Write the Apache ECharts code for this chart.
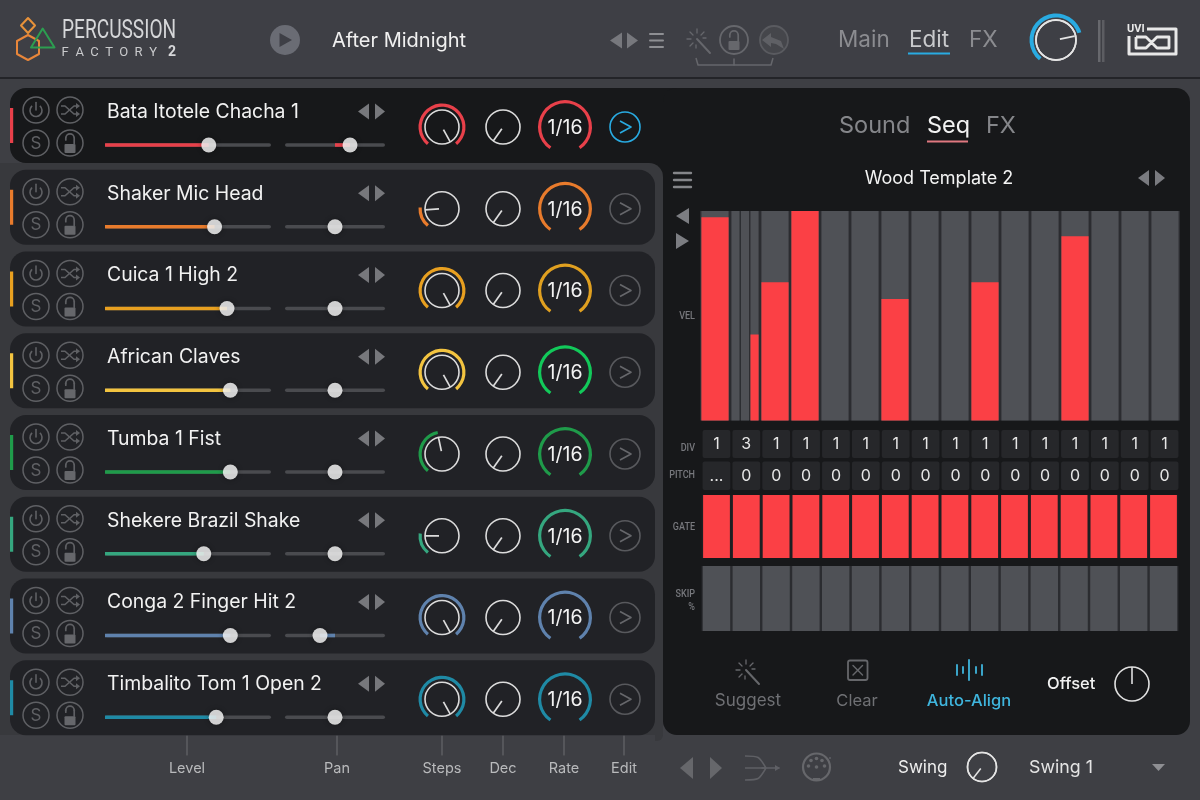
<!DOCTYPE html>
<html><head><meta charset="utf-8">
<style>html,body{margin:0;padding:0;background:#3e3f44}#c{width:1200px;height:800px}</style>
<script src="https://cdn.jsdelivr.net/npm/echarts@6/dist/echarts.min.js"></script>
</head><body><div id="c"></div>
<script>
// ---- data ----
const trackNames = ['Bata Itotele Chacha 1','Shaker Mic Head','Cuica 1 High 2','African Claves','Tumba 1 Fist','Shekere Brazil Shake','Conga 2 Finger Hit 2','Timbalito Tom 1 Open 2'];
const trackColors = ['#e8404a','#e87b2c','#e8a020','#f3c440','#1f9b4a','#35a77f','#5f82ad','#1f8aa5'];
const rateColors  = ['#e8404a','#e87b2c','#e0a020','#12c95a','#1f9b4a','#35a77f','#5f82ad','#1f8aa5'];
const levelValues = [62.5,66,73.5,75.5,75.5,59.5,75.5,67];
const panValues   = [30,0,0,0,0,0,-30,0];
const stepValues  = [100,19,100,100,46,20,100,100];
const decValues   = [2,2,2,2,2,2,2,2];
const rateLabels  = ['1/16','1/16','1/16','1/16','1/16','1/16','1/16','1/16'];
const stepNames   = ['1','2','3','4','5','6','7','8','9','10','11','12','13','14','15','16'];
const velocity    = [[97],[0,0,41],[66],[100],[0],[0],[58],[0],[0],[66],[0],[0],[88],[0],[0],[0]];
const divLabels   = ['1','3','1','1','1','1','1','1','1','1','1','1','1','1','1','1'];
const pitchLabels = ['...','0','0','0','0','0','0','0','0','0','0','0','0','0','0','0'];
const gateValues  = [100,100,100,100,100,100,100,100,100,100,100,100,100,100,100,100];
const skipValues  = [0,0,0,0,0,0,0,0,0,0,0,0,0,0,0,0];
const masterValue = 76, offsetValue = 50, swingValue = 3;
const columnLabels = [['Level',187],['Pan',337],['Steps',442],['Dec',503],['Rate',564],['Edit',624]];
const headerTabs = [['Main',838,'#8b8c90'],['Edit',909,'#c9cacc'],['FX',969,'#8b8c90']];
const panelTabs  = [['Sound',839,'#85868a'],['Seq',927,'#f2f2f2'],['FX',986,'#85868a']];
const sideLabels = [['VEL',315],['DIV',447],['PITCH',474],['GATE',526],['SKIP',593],['%',606]];

// ---- layout helpers ----
const FONT = 'Inter, Roboto, sans-serif';
const BLUE = '#29abe2', ICON = '#5f6064', RED = '#fb4045', DARK = '#17181a';
const deco = [];
const add = (o, z) => { o.silent = true; o.z = z === undefined ? 5 : z; deco.push(o); return o; };
const rect = (x,y,w,h,r,fill,z,stroke,lw) => add({type:'rect',shape:{x,y,width:w,height:h,r},style:{fill:fill||'none',stroke:stroke||'none',lineWidth:lw||1}},z);
const circle = (cx,cy,r,stroke,lw,fill) => add({type:'circle',shape:{cx,cy,r},style:{fill:fill||'none',stroke:stroke||'none',lineWidth:lw||1}});
const line = (x1,y1,x2,y2,stroke,lw) => add({type:'line',shape:{x1,y1,x2,y2},style:{stroke,lineWidth:lw||1,lineCap:'round'}});
const poly = (points,fill) => add({type:'polygon',shape:{points},style:{fill}});
const outline = (points,stroke,lw) => add({type:'polyline',shape:{points},style:{stroke,lineWidth:lw||1,fill:'none',lineJoin:'round'}});
const loop = (points,stroke,lw) => add({type:'polygon',shape:{points},style:{stroke,lineWidth:lw||1,fill:'none',lineJoin:'round'}});
const arc = (cx,cy,r,a0,a1,stroke,lw) => add({type:'arc',shape:{cx,cy,r,startAngle:a0,endAngle:a1,clockwise:true},style:{stroke,lineWidth:lw||1,fill:'none'}});
const text = (s,x,y,size,fill,align,weight,family,scaleX) => add({type:'text',x,y:y+1,scaleX:scaleX||1,originX:0,originY:0,style:{text:s,x:0,y:0,fill,fontSize:size,fontFamily:family||FONT,fontWeight:weight||400,align:align||'left',verticalAlign:'middle'}});
const arrows = (xl,xm1,xm2,xr,y,h,fill) => { poly([[xl,y],[xm1,y-h],[xm1,y+h]],fill); poly([[xr,y],[xm2,y-h],[xm2,y+h]],fill); };
const burger = (x0,x1,ys,c,lw) => ys.forEach(y => line(x0,y,x1,y,c,lw));
const wand = (cx,cy,c,lw) => {
  line(cx,cy,cx+13,cy+14,c,lw+0.6);
  [[-10,0,-6,0],[0,-10,0,-6],[-7,-7,-4,-4],[7,-7,4,-4],[-7,7,-4,4],[9,-1,6,-1],[-1,9,-1,6]].forEach(d => line(cx+d[0],cy+d[1],cx+d[2],cy+d[3],c,1.3));
};
const lock = (cx,cy,c,bodyColor) => {
  rect(cx-5.5,cy,11,9,1,bodyColor||c);
  arc(cx,cy-6,4.2,Math.PI,2*Math.PI,c,1.7);
  line(cx+4.2,cy-6,cx+4.2,cy,c,1.7);
  line(cx-4.2,cy-6,cx-4.2,cy-4,c,1.7);
};

// page + panels
rect(0,0,1200,77,0,'#3e3f45',-5);
rect(0,77,1200,2,0,'#232428',-5);
rect(0,79,1200,721,0,'#3e3f44',-5);
rect(10,88,670,75,[16,0,0,16],DARK,-4);
rect(663,88,527,647,14,DARK,-4);
rect(645,163,22,22,0,DARK,-4);
rect(0,163,663,577,[0,14,0,0],'#38393d',-3);
rect(0,735,670,65,0,'#3e3f44',-3);
rect(655,735,8,6,[0,0,8,0],'#38393d',-3);

// header
loop([[28,18],[35,25.5],[28,33],[21,25.5]],'#e8923a',2);
loop([[28,35],[39,41],[39,54],[28,60],[17,54],[17,41]],'#e8863a',2);
loop([[42.7,28.5],[54.5,47.5],[31,47.5]],'#2c9e50',2);
text('PERCUSSION',62,30.5,26,'#d6d7d9','left',400,'Roboto',0.735);
'FACTORY'.split('').forEach((ch,i) => text(ch,65+14.7*i,51.5,13,'#c9cacc','center',400,'Roboto'));
text('2',172,51.5,14,'#d6d7d9','center',700,'Roboto');
circle(285,40,15,null,1,'#6a6c74');
poly([[279.5,33],[279.5,47],[292,40]],'#3e3f46');
text('After Midnight',332,40,20,'#f0f0f0');
arrows(610,622,627,638,40.5,8,'#77787d');
burger(650,663,[34,40.5,47],'#8e8f93',2);
wand(697,39,'#66676c',1.3);
circle(734,40,14,'#66676c',1.8); lock(734,41,'#66676c');
circle(774,40,14,'#5a5b60',1.8,'#45464b');
poly([[762,40],[771,33],[771,37],[781,41],[784,49],[776,44],[771,43],[771,47]],'#5f6065');
outline([[696,58],[698,65],[771,65],[773,58]],'#66676c',1.5);
line(734,59,734,65,'#66676c',1.5);
headerTabs.forEach(t => text(t[0],t[1],39.5,22.5,t[2]));
rect(908,52.5,42,2,0,BLUE);
circle(1056,40,20,'#e4e4e4',1.8);
rect(1098,20,2.5,42,0,'#67686d'); rect(1102,20,2.5,42,0,'#5c5d62');
// UVI logo
text('UVI',1127,28,11,'#e8e8e8','left',700,'Roboto');
outline([[1147,29],[1176,29],[1176,54],[1129,54],[1129,36]],'#e8e8e8',3);
outline([[1136,37],[1136,48],[1146,48],[1157,37],[1169,37],[1169,48],[1157,48],[1146,37],[1136,37]],'#e8e8e8',2.8);

// sequencer panel furniture
panelTabs.forEach(t => text(t[0],t[1],125,23.5,t[2]));
rect(927,140.5,41,2,0,'#e07880');
burger(674,691,[173,180,187],'#85868a',2.4);
text('Wood Template 2',939,177.5,18,'#f4f4f4','center');
arrows(1138,1149,1155,1165,178,8,'#7a7b80');
poly([[676,216],[689,208],[689,224]],'#7c7d82');
poly([[689,241],[676,233],[676,249]],'#7c7d82');
sideLabels.forEach(l => text(l[0],695,l[1],10.5,'#77787d','right',500,'Roboto',0.86));
wand(746,670,'#66676b',1.4);
text('Suggest',748,700,17,'#6f7074','center');
rect(848,660.5,19.5,19.5,2,null,5,'#66676b',1.8);
line(853,665.5,862.5,675,'#66676b',1.4); line(862.5,665.5,853,675,'#66676b',1.4);
text('Clear',857,700,16.5,'#6f7074','center');
[[957,5],[963,3],[969,10],[976,3],[982,5]].forEach(b => line(b[0],670-b[1],b[0],670+b[1],'#3fb5dd',1.8));
text('Auto-Align',969,700,16.5,'#3fb5dd','center',500);
text('Offset',1047,683,16.5,'#f2f2f2','left',500);

// bottom strip
columnLabels.forEach(c => { line(c[1],736,c[1],755,'#66676b',1.2); text(c[0],c[1],768,14.5,'#b9babc','center'); });
arrows(680,693,710,722,768,11,'#66676b');
[[745,756],[745,768],[745,780]].forEach(p => add({type:'bezierCurve',shape:{x1:p[0],y1:p[1],x2:766,y2:768,cpx1:759,cpy1:p[1],cpx2:759,cpy2:p[1]},style:{stroke:'#5f6065',lineWidth:1.5,fill:'none'}}));
line(762,768,779,768,'#5f6065',1.5);
poly([[780,768],[775,765],[775,771]],'#5f6065');
circle(816.5,767,13.5,'#66676b',2.2);
[[-8,-1],[-5.5,-6.5],[0,-8.5],[5.5,-6.5],[8,-1]].forEach(d => circle(816.5+d[0],767+d[1],1.8,null,1,'#66676b'));
circle(816.5,767,1.8,null,1,'#66676b');
rect(813,778,7,2,0,'#66676b');
circle(830,758,0.8,null,1,'#77787d');
text('Swing',898,767,17,'#eeeeee');
circle(982,767,14.5,'#e4e4e4',1.5);
text('Swing 1',1029,767,17.8,'#e4e4e4');
poly([[1152,764],[1165,764],[1158.5,771]],'#8e8f93');

// ---- chart option pieces ----
const grids=[], xAxes=[], yAxes=[], series=[];
function addGrid(left,top,width,height,x,y,bg){
  const i = grids.length;
  grids.push({left,top,width,height,containLabel:false,show:!!bg,backgroundColor:bg||'transparent',borderWidth:0});
  xAxes.push(Object.assign({gridIndex:i,show:false},x));
  yAxes.push(Object.assign({gridIndex:i,show:false},y));
  return i;
}
const catX = {type:'category',data:stepNames,boundaryGap:true};
const valY = {type:'value',min:0,max:100};

function slider(left,cy,width,min,max,value,color){
  const g = addGrid(left,cy-7,width,14,{type:'value',min,max},{type:'category',data:['v']});
  series.push({type:'bar',xAxisIndex:g,yAxisIndex:g,data:[value],barWidth:3.6,silent:true,showBackground:true,
    backgroundStyle:{color:'#4a4b4f',borderRadius:2},itemStyle:{color,borderRadius:0}});
  series.push({type:'scatter',xAxisIndex:g,yAxisIndex:g,data:[[value,'v']],symbolSize:15,clip:false,silent:true,z:4,
    itemStyle:{color:'#ffffff',shadowBlur:5,shadowColor:'rgba(0,0,0,0.45)'}});
}
function gaugeBase(cx,cy,r,start,end,value){
  return {type:'gauge',center:[cx,cy],radius:r,startAngle:start,endAngle:end,min:0,max:100,silent:true,
    axisLine:{show:false},axisTick:{show:false},splitLine:{show:false},axisLabel:{show:false},anchor:{show:false},
    title:{show:false},detail:{show:false},pointer:{show:false},progress:{show:false},data:[{value}]};
}
function arcGauge(cx,cy,r,start,end,value,color,w,label){
  const s = gaugeBase(cx,cy,r,start,end,value);
  s.progress = {show:true,width:w,itemStyle:{color}};
  if(label) s.detail = {show:true,formatter:()=>label,offsetCenter:[0,1],color:'#f2f2f2',fontSize:19.5,fontFamily:FONT,fontWeight:400,valueAnimation:false};
  series.push(s);
}
function needle(cx,cy,r,start,end,value,lenPx,off,color,w){
  circle(cx,cy,r,color||'#dcdcdc',1.6);
  const s = gaugeBase(cx,cy,r,start,end,value);
  s.pointer = {show:true,icon:'rect',length:lenPx,width:w||1.7,offsetCenter:[0,off],itemStyle:{color:color||'#dcdcdc'}};
  series.push(s);
}

// ---- tracks ----
trackNames.forEach((name,i) => {
  const top = 88 + i*81.75, c = top + 38, col = trackColors[i];
  if(i>0) rect(10,top,645,75,16,'#212226',-2);
  rect(10,c-18,3.2,35,0,col,6);
  [[36,c-16],[70,c-16],[36,c+17],[70,c+17]].forEach(p => circle(p[0],p[1],13,ICON,1.5));
  // power
  arc(36,c-15.5,6,-Math.PI/2+0.7,-Math.PI/2-0.7+2*Math.PI,ICON,1.6); line(36,c-23.5,36,c-16,ICON,1.6);
  // shuffle
  outline([[61,c-20],[65,c-20],[74,c-12],[78,c-12]],ICON,1.6); outline([[61,c-12],[65,c-12],[74,c-20],[78,c-20]],ICON,1.6);
  poly([[80,c-20],[76,c-23],[76,c-17]],ICON); poly([[80,c-12],[76,c-15],[76,c-9]],ICON);
  text('S',36,c+16.5,17,ICON,'center',400,FONT);
  lock(70,c+18,ICON,'#66676b');
  text(name,107,c-15,19.4,'#f2f2f2');
  arrows(358,369,375,385,c-14.5,8,'#77787c');

  slider(105,c+19,166,0,100,levelValues[i],col);
  slider(285,c+19,100,-100,100,panValues[i],col);

  arcGauge(442,c+1,23.5,230,-50,stepValues[i],col,3.2);
  needle(442,c+1,17,241,-61,stepValues[i],14,-3);
  needle(503,c+1,17,241,-61,decValues[i],15,-2);
  arcGauge(565,c+1,27,235,-55,100,rateColors[i],3.2,rateLabels[i]);

  const ec = i===0 ? BLUE : '#58595d';
  circle(625,c+1,15,ec,1.6);
  outline([[620,c-5],[631,c+1],[620,c+7]],i===0?BLUE:'#66676b',1.6);
});

// master, offset and swing knobs
arcGauge(1056,40,26.5,230,-50,masterValue,BLUE,4);
needle(1056,40,20,241,-61,masterValue,15,-4,'#e4e4e4',1.8);
needle(1132,684,17,241,-61,offsetValue,17,0,'#e0e0e0',1.6);
needle(982,767,14.5,241,-61,swingValue,12,-2,'#e4e4e4',1.5);

// ---- sequencer ----
const velRows = [];
velocity.forEach((subs,step) => subs.forEach((v,k) => velRows.push([step,k,subs.length,v])));
const gv = addGrid(700,211,480,209.5,catX,valY,'#2b2c30');
series.push({type:'custom',xAxisIndex:gv,yAxisIndex:gv,silent:true,clip:false,data:velRows,encode:{x:0,y:3},
  renderItem(params,api){
    const step=api.value(0), k=api.value(1), n=api.value(2), v=api.value(3);
    const cw=api.size([1,0])[0], bw=cw-2.8, x0=api.coord([step,0])[0]-bw/2;
    const gap = n>1 ? 1.4 : 0, w=(bw-gap*(n-1))/n, x=x0+k*(w+gap);
    const top=api.coord([step,100])[1], base=api.coord([step,0])[1], h=api.coord([step,v])[1];
    return {type:'group',children:[
      {type:'rect',shape:{x,y:top,width:w,height:base-top},style:{fill:'#4f5156'}},
      {type:'rect',shape:{x,y:h,width:w,height:base-h},style:{fill:RED}}
    ]};
  }});
function labelRow(top,h,labels){
  const g = addGrid(701.5,top,478,h,catX,{type:'value',min:0,max:1});
  series.push({type:'bar',xAxisIndex:g,yAxisIndex:g,silent:true,barWidth:27.8,data:labels.map(()=>1),
    itemStyle:{color:'#26272a',borderRadius:2},
    label:{show:true,position:'inside',formatter:p=>labels[p.dataIndex],color:'#e6e6e6',fontSize:16,fontFamily:FONT}});
}
labelRow(430,28,divLabels);
labelRow(461.5,28.5,pitchLabels);
const gg = addGrid(701.6,495,476.8,63,catX,valY,'#1e1f22');
series.push({type:'bar',xAxisIndex:gg,yAxisIndex:gg,silent:true,barWidth:26.8,data:gateValues,itemStyle:{color:RED}});
const gs = addGrid(701.6,566,476.8,65,catX,valY,'#2b2c30');
series.push({type:'bar',xAxisIndex:gs,yAxisIndex:gs,silent:true,barWidth:27.4,data:skipValues,itemStyle:{color:RED},
  showBackground:true,backgroundStyle:{color:'#4f5156'}});

const chart = echarts.init(document.getElementById('c'));
chart.setOption({animation:false,backgroundColor:'#3e3f44',grid:grids,xAxis:xAxes,yAxis:yAxes,series,graphic:{elements:deco},tooltip:{show:false}});
</script></body></html>
